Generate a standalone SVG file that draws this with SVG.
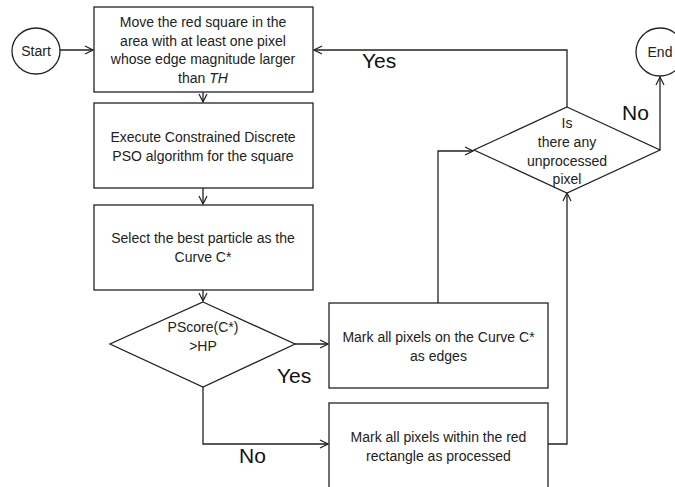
<svg xmlns="http://www.w3.org/2000/svg" width="675" height="487" viewBox="0 0 675 487">
  <style>
    .shape { fill: #ffffff; stroke: #222222; stroke-width: 1.3; }
    .wire { fill: none; stroke: #222222; stroke-width: 1.3; }
    .txt { font-family: "Liberation Sans", Arial, sans-serif; font-size: 14px; fill: #222222; text-anchor: middle; }
    .lbl { font-family: "Liberation Sans", Arial, sans-serif; font-size: 21px; fill: #111111; }
  </style>
  <defs>
    <marker id="arrow" viewBox="0 0 10 10" refX="9" refY="5" markerWidth="10" markerHeight="10" markerUnits="userSpaceOnUse" orient="auto">
      <path d="M1,1 L9,5 L1,9" fill="none" stroke="#222222" stroke-width="1.2"/>
    </marker>
  </defs>

  <rect width="675" height="487" fill="#ffffff"/>

  <!-- connectors -->
  <g id="connectors">
    <path class="wire" d="M60,50 H93" marker-end="url(#arrow)"/>
    <path class="wire" d="M203,92 V102" marker-end="url(#arrow)"/>
    <path class="wire" d="M203,188 V204" marker-end="url(#arrow)"/>
    <path class="wire" d="M203,290 V301" marker-end="url(#arrow)"/>
    <path class="wire" d="M295,344 H328" marker-end="url(#arrow)"/>
    <path class="wire" d="M203,387 V444 H328" marker-end="url(#arrow)"/>
    <path class="wire" d="M438,303 V151 H473" marker-end="url(#arrow)"/>
    <path class="wire" d="M548,444 H567 V193" marker-end="url(#arrow)"/>
    <path class="wire" d="M567,107 V50 H314" marker-end="url(#arrow)"/>
    <path class="wire" d="M660,150 V77" marker-end="url(#arrow)"/>
    <text class="lbl" x="362" y="68">Yes</text>
    <text class="lbl" x="622" y="120">No</text>
    <text class="lbl" x="277" y="383">Yes</text>
    <text class="lbl" x="239" y="463">No</text>
  </g>

  <g id="start">
    <ellipse class="shape" cx="36" cy="51" rx="24" ry="23"/>
    <text class="txt" x="36" y="56">Start</text>
  </g>

  <g id="end">
    <circle class="shape" cx="660" cy="52" r="24"/>
    <text class="txt" x="660" y="57">End</text>
  </g>

  <g id="move-square">
    <rect class="shape" x="94" y="7" width="219" height="85"/>
    <text class="txt" x="203" y="27">Move the red square in the</text>
    <text class="txt" x="203" y="45.5">area with at least one pixel</text>
    <text class="txt" x="203" y="64">whose edge magnitude larger</text>
    <text class="txt" x="203" y="82.5">than <tspan font-style="italic">TH</tspan></text>
  </g>

  <g id="execute-pso">
    <rect class="shape" x="94" y="103" width="219" height="85"/>
    <text class="txt" x="203" y="142">Execute Constrained Discrete</text>
    <text class="txt" x="203" y="160.5">PSO algorithm for the square</text>
  </g>

  <g id="select-best">
    <rect class="shape" x="94" y="205" width="219" height="85"/>
    <text class="txt" x="203" y="243">Select the best particle as the</text>
    <text class="txt" x="203" y="262">Curve C*</text>
  </g>

  <g id="pscore-check">
    <polygon class="shape" points="203,302 295,344 203,387 110,344"/>
    <text class="txt" x="203" y="332">PScore(C*)</text>
    <text class="txt" x="203" y="350.5">&gt;HP</text>
  </g>

  <g id="mark-edges">
    <rect class="shape" x="329" y="303" width="219" height="85"/>
    <text class="txt" x="438.5" y="342">Mark all pixels on the Curve C*</text>
    <text class="txt" x="438.5" y="360.5">as edges</text>
  </g>

  <g id="mark-processed">
    <rect class="shape" x="329" y="403" width="219" height="90"/>
    <text class="txt" x="438.5" y="442">Mark all pixels within the red</text>
    <text class="txt" x="438.5" y="460.5">rectangle as processed</text>
  </g>

  <g id="unprocessed-check">
    <polygon class="shape" points="567,107 660,150 567,193 474,150"/>
    <text class="txt" x="567" y="128">Is</text>
    <text class="txt" x="567" y="147">there any</text>
    <text class="txt" x="567" y="166">unprocessed</text>
    <text class="txt" x="567" y="184">pixel</text>
  </g>
</svg>
